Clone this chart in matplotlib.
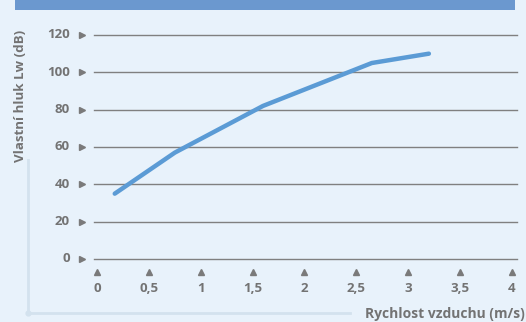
import matplotlib
matplotlib.use("Agg")
import matplotlib.pyplot as plt
from matplotlib.transforms import blended_transform_factory
from matplotlib.patches import Rectangle
from matplotlib.lines import Line2D

speed = [0.17, 0.75, 1.6, 2.65, 3.2]
noise = [35, 57, 82, 105, 110]
x_ticks = [0, 0.5, 1, 1.5, 2, 2.5, 3, 3.5, 4]
x_labels = ["0", "0,5", "1", "1,5", "2", "2,5", "3", "3,5", "4"]
y_ticks = [0, 20, 40, 60, 80, 100, 120]
x_title = "Rychlost vzduchu (m/s)"
y_title = "Vlastní hluk Lw (dB)"

W, H = 526, 322
bg = "#e8f2fb"
fig = plt.figure(figsize=(W/100, H/100), dpi=100, facecolor=bg)
fam = ["Open Sans", "DejaVu Sans"]
tc = "#737373"

# header band
fig.patches.append(Rectangle((15/W, 1-10/H), 500/W, 10/H, transform=fig.transFigure,
                             facecolor="#6b98cf", edgecolor="none"))

left, right = 94/W, 517/W
bottom, top = 1-259/H, 1-35/H
ax = fig.add_axes([left, bottom, right-left, top-bottom])
ax.set_facecolor("none")
ax.set_ylim(0, 120)
ax.set_xlim(-0.03, 4.05)
for s in ax.spines.values():
    s.set_visible(False)
ax.set_xticks([]); ax.set_yticks([])

for y in y_ticks:
    ax.axhline(y, color="#808080", lw=1.0, clip_on=False, zorder=1)

ax.plot(speed, noise, color="#5b9bd5", lw=3.2, solid_capstyle="round",
        solid_joinstyle="round", zorder=3, clip_on=False)

# y tick markers and labels
ty = blended_transform_factory(fig.transFigure, ax.transData)
for y in y_ticks:
    fig.lines.append(Line2D([82/W], [y], transform=ty, marker=">", markersize=3.8,
                            color="#7a7a7a", linestyle="none"))
    fig.text(70/W, y, str(y), transform=ty, ha="right", va="center",
             fontsize=9.5, color=tc, family=fam, weight="bold")

tx = blended_transform_factory(ax.transData, fig.transFigure)
for xv, lab in zip(x_ticks, x_labels):
    fig.lines.append(Line2D([xv], [1-271.5/H], transform=tx, marker="^", markersize=3.8,
                            color="#7a7a7a", linestyle="none"))
    fig.text(xv, 1-288/H, lab, transform=tx, ha="center", va="center",
             fontsize=9.5, color=tc, family=fam, weight="bold")

# axis decoration lines
lc = "#d3e2ee"
fig.lines.append(Line2D([28/W, 28/W], [1-160/H, 1-313/H], transform=fig.transFigure,
                        color=lc, lw=2))
fig.lines.append(Line2D([28/W, 350/W], [1-313/H, 1-313/H], transform=fig.transFigure,
                        color=lc, lw=2))
fig.lines.append(Line2D([28/W], [1-313/H], transform=fig.transFigure, marker="o",
                        markersize=3.5, color=lc))

fig.text(525/W, 1-314/H, x_title, ha="right", va="center", fontsize=10,
         color=tc, family=fam, weight="bold")
fig.text(21/W, 1-96/H, y_title, ha="center", va="center", rotation=90,
         fontsize=9.6, color=tc, family=fam, weight="bold")

fig.savefig("out.png", dpi=100, facecolor=bg)
